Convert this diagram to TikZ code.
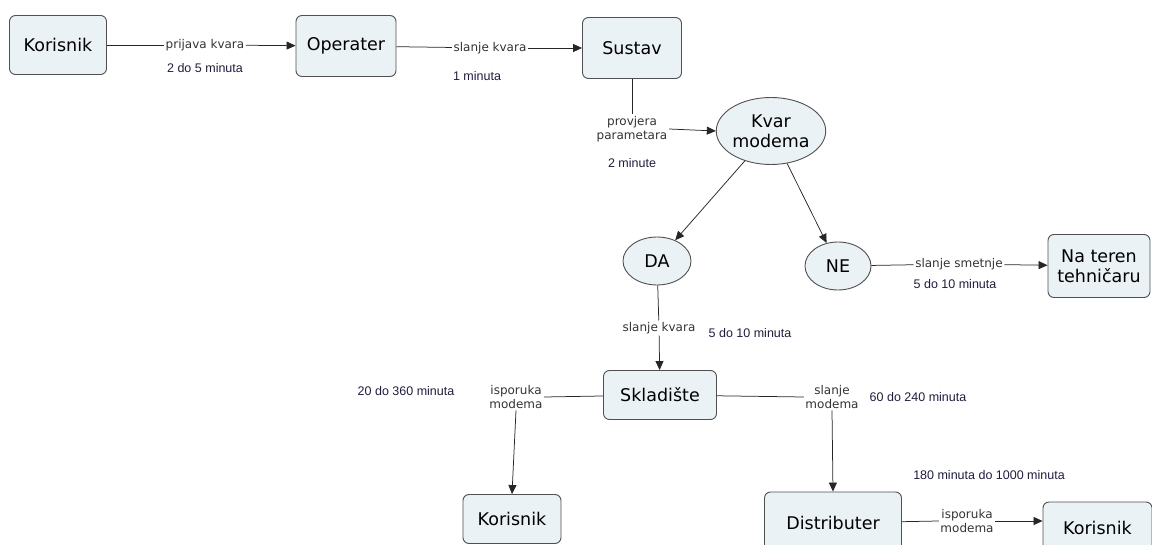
\documentclass[tikz,border=0pt]{standalone}
\usepackage{fontspec}
\setmainfont{DejaVu Sans}
\newfontfamily\timefont{Liberation Sans}
\usetikzlibrary{arrows.meta,shapes.geometric}
\definecolor{nodefill}{HTML}{EBF2F5}
\definecolor{nodeline}{HTML}{505050}
\definecolor{timecol}{HTML}{1E1E3C}
\definecolor{lblcol}{HTML}{333333}
\tikzset{
  box/.style={draw=nodeline, line width=0.9pt, fill=nodefill, rounded corners=6pt, inner sep=0pt, align=center, font=\fontsize{17.5}{20}\selectfont},
  ell/.style={draw=nodeline, line width=0.9pt, fill=nodefill, ellipse, inner sep=0pt, align=center, font=\fontsize{17.5}{20}\selectfont},
  lbl/.style={inner sep=1.5pt, align=center, text=lblcol, font=\fontsize{12}{14}\selectfont},
  tim/.style={inner sep=0pt, text=timecol, font=\timefont\fontsize{12.5}{14}\selectfont},
  con/.style={draw=black!85, line width=0.75pt},
  arr/.style={con, -{Triangle[length=9pt,width=8pt]}}
}
\begin{document}
\begin{tikzpicture}[x=1pt,y=-1pt]
\useasboundingbox (0,0) rectangle (1152,545);
% nodes
\node[box, minimum width=97pt, minimum height=59pt] (kor1) at (58,45) {Korisnik};
\node[box, minimum width=100pt, minimum height=61pt] (op) at (346,46) {Operater};
\node[box, minimum width=99pt, minimum height=61pt] (sus) at (632,48) {Sustav};
\node[ell, minimum width=108pt, minimum height=67pt] (kvar) at (771,131) {Kvar\\modema};
\node[ell, minimum width=68pt, minimum height=48pt] (da) at (657,261) {DA};
\node[ell, minimum width=66pt, minimum height=48pt] (ne) at (838,266) {NE};
\node[box, minimum width=102pt, minimum height=63pt] (ter) at (1099,266) {Na teren\\tehničaru};
\node[box, minimum width=113pt, minimum height=49pt] (skl) at (660,395) {Skladište};
\node[box, minimum width=98pt, minimum height=49pt] (kor2) at (512,519) {Korisnik};
\node[box, minimum width=137pt, minimum height=62pt] (dis) at (833,523) {Distributer};
\node[box, minimum width=109pt, minimum height=52pt] (kor3) at (1097.5,528) {Korisnik};
% link labels
\node[lbl] (l1) at (205,45) {prijava kvara};
\node[lbl] (l2) at (490,48) {slanje kvara};
\node[lbl] (l3) at (632,129) {provjera\\parametara};
\node[lbl] (l4) at (959,264) {slanje smetnje};
\node[lbl] (l5) at (659,328) {slanje kvara};
\node[lbl] (l6) at (516,397) {isporuka\\modema};
\node[lbl] (l7) at (832,397) {slanje\\modema};
\node[lbl] (l8) at (967,521) {isporuka\\modema};
% time labels
\node[tim] (t1) at (205,68) {2 do 5 minuta};
\node[tim] (t2) at (477,76) {1 minuta};
\node[tim] (t3) at (632,163) {2 minute};
\node[tim] (t4) at (955,284) {5 do 10 minuta};
\node[tim] (t5) at (750,333) {5 do 10 minuta};
\node[tim] (t6) at (406,391) {20 do 360 minuta};
\node[tim] (t7) at (918,397) {60 do 240 minuta};
\node[tim] (t8) at (989,475) {180 minuta do 1000 minuta};
% connectors
\draw[con] (kor1) -- (l1);
\draw[arr] (l1) -- (op);
\draw[con] (op) -- (l2);
\draw[arr] (l2) -- (sus);
\draw[con] (sus) -- (l3);
\draw[arr] (l3.east) -- (kvar.west);
\draw[arr] (kvar) -- (da);
\draw[arr] (kvar) -- (ne);
\draw[con] (ne) -- (l4);
\draw[arr] (l4) -- (ter);
\draw[con] (da) -- (l5);
\draw[arr] (l5) -- (skl);
\draw[con] (skl) -- (l6.east);
\draw[arr] (l6.south) -- (kor2.north);
\draw[con] (skl) -- (l7.west);
\draw[arr] (l7.south) -- (dis.north);
\draw[con] (dis) -- (l8.west);
\draw[arr] (l8.east) -- (l8.east -| kor3.west);
\end{tikzpicture}
\end{document}
